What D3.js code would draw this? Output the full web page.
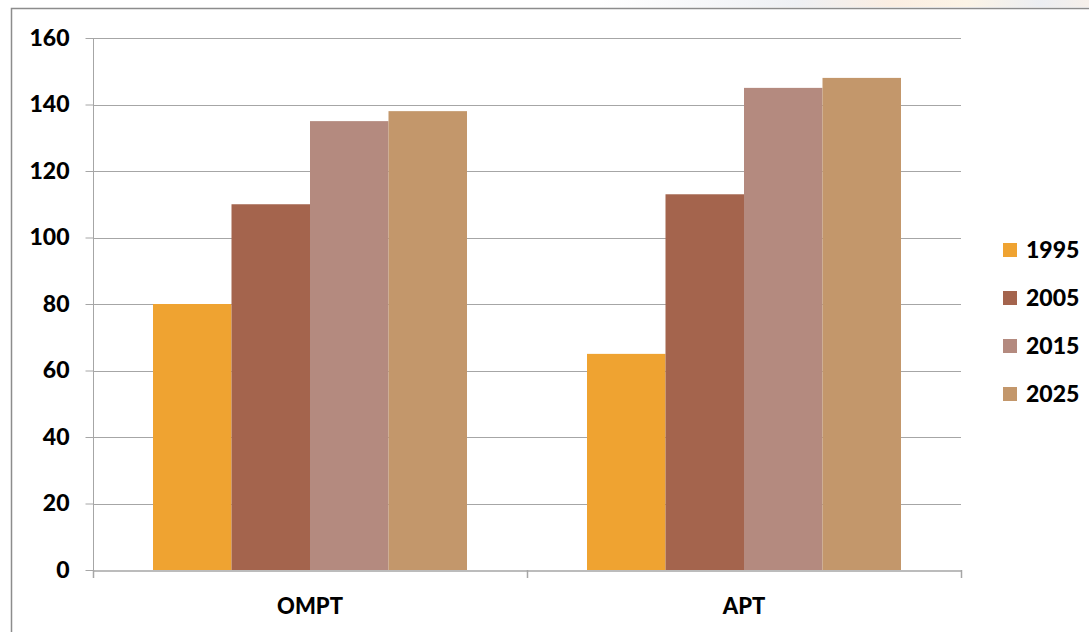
<!DOCTYPE html>
<html><head><meta charset="utf-8">
<script src="https://cdn.jsdelivr.net/npm/d3@7/dist/d3.min.js"></script>
<style>body{margin:0;background:#fff}svg{display:block}text{font-family:Lato,"Open Sans",sans-serif;font-weight:900;fill:#000}</style>
</head><body><svg id="c" width="1089" height="632"></svg>
<script>
const categories = ["OMPT", "APT"];
const seriesNames = ["1995", "2005", "2015", "2025"];
const values1995 = [80, 65];
const values2005 = [110, 113];
const values2015 = [135, 145];
const values2025 = [138, 148];
const yTicks = [0, 20, 40, 60, 80, 100, 120, 140, 160];
const colors = ["#EFA331", "#A4644D", "#B48A7F", "#C3976B"];

(function(){
const series = [values1995, values2005, values2015, values2025];
const svg = d3.select("#c");

const defs = svg.append("defs");
const g1 = defs.append("linearGradient").attr("id","strip");
[["0%","#ffffff"],["40%","#eef0f4"],["60%","#fbeee2"],["75%","#fcf4e6"],["90%","#eceef2"],["100%","#f6f0ea"]]
  .forEach(([o,c])=>g1.append("stop").attr("offset",o).attr("stop-color",c));
svg.append("rect").attr("x",600).attr("y",0).attr("width",489).attr("height",7).attr("fill","url(#strip)");

svg.append("path").attr("d","M11.5,632 V8.5 H1089").attr("fill","none").attr("stroke","#8c8c8c").attr("stroke-width",1.5);

const pL = 93, pR = 961, pT = 38, pB = 570;
const y = d3.scaleLinear().domain([0,160]).range([pB, pT]);
const x0 = d3.scaleBand().domain(categories).range([pL, pR]).paddingInner(0).paddingOuter(0);
const innerPad = 60;
const x1 = d3.scaleBand().domain(seriesNames).range([innerPad, x0.bandwidth()-innerPad]).padding(0);

svg.append("g").selectAll("line").data(yTicks.filter(d=>d>0)).join("line")
  .attr("x1",pL).attr("x2",pR).attr("y1",d=>Math.round(y(d))+0.5).attr("y2",d=>Math.round(y(d))+0.5)
  .attr("stroke","#a6a6a6").attr("stroke-width",1);

categories.forEach((cat,ci)=>{
  svg.append("g").selectAll("rect").data(seriesNames).join("rect")
    .attr("x",s=>x0(cat)+x1(s)).attr("width",x1.bandwidth())
    .attr("y",(s,si)=>y(series[si][ci])).attr("height",(s,si)=>pB-y(series[si][ci]))
    .attr("fill",(s,si)=>colors[si]);
});

const yAxis = d3.axisLeft(y).tickValues(yTicks).tickSize(8).tickPadding(16);
const ya = svg.append("g").attr("transform",`translate(${pL+0.5},0)`).call(yAxis);
ya.select(".domain").attr("stroke","#a6a6a6").attr("d",`M0,${pT} V${pB}`);
ya.selectAll(".tick line").attr("stroke","#a6a6a6");
ya.selectAll(".tick text").style("font-size","23px").style("font-family","Lato").style("font-weight","900").attr("fill","#000");

const xa = svg.append("g").attr("transform",`translate(0,${pB+0.5})`)
  .call(d3.axisBottom(x0).tickSize(0).tickPadding(28));
xa.select(".domain").attr("stroke","#a6a6a6").attr("stroke-width",1.5);
xa.selectAll(".tick text").style("font-size","22px").style("font-family","Lato").style("font-weight","900").attr("fill","#000");
const bounds = [pL, ...categories.map(c=>x0(c)+x0.bandwidth())];
svg.append("g").selectAll("line").data(bounds).join("line")
  .attr("x1",d=>d+0.5).attr("x2",d=>d+0.5).attr("y1",pB).attr("y2",pB+8)
  .attr("stroke","#a6a6a6").attr("stroke-width",1.5);

const leg = svg.append("g").attr("transform","translate(1003,243)");
seriesNames.forEach((s,i)=>{
  const g = leg.append("g").attr("transform",`translate(0,${i*48})`);
  g.append("rect").attr("width",14).attr("height",14).attr("fill",colors[i]);
  g.append("text").attr("x",23).attr("y",7).attr("dy","0.36em").style("font-size","23px").text(s);
});
})();
</script></body></html>
